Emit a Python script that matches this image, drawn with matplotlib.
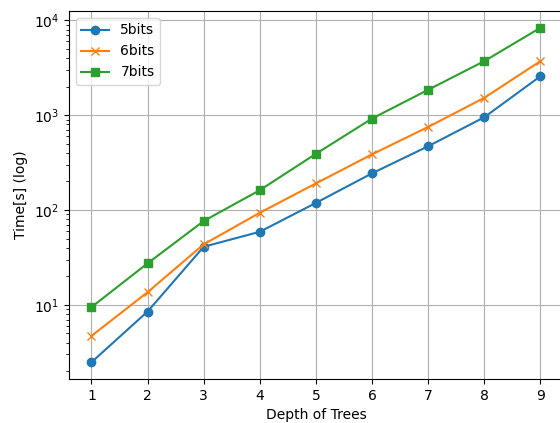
import matplotlib
matplotlib.use('Agg')
import matplotlib.pyplot as plt

depth = [1, 2, 3, 4, 5, 6, 7, 8, 9]
t5 = [2.48, 8.5, 41, 59, 119, 244, 471, 953, 2580]
t6 = [4.7, 13.6, 43.5, 93.6, 191, 387, 753, 1527, 3720]
t7 = [9.46, 27.4, 76.6, 162, 392, 923, 1855, 3720, 8370]

fig = plt.figure(figsize=(5.6, 4.23), dpi=100)
ax = fig.add_axes([0.1232, 0.104, 0.882, 0.870])

ax.plot(depth, t5, marker='o', label='5bits')
ax.plot(depth, t6, marker='x', label='6bits')
ax.plot(depth, t7, marker='s', label='7bits')
ax.set_yscale('log')
ax.set_xticks(depth)
ax.set_xlabel('Depth of Trees')
ax.set_ylabel('Time[s] (log)')
ax.grid(True, which='major')
ax.legend(loc='upper left')

fig.savefig('out.png', dpi=100)
